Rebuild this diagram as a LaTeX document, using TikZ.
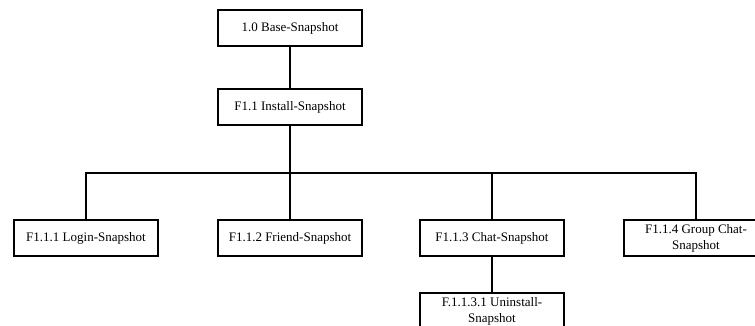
\documentclass[tikz,border=0pt]{standalone}
\usepackage{fontspec}
\setmainfont{Liberation Serif}
\begin{document}
\begin{tikzpicture}[x=1pt,y=-1pt,
  box/.style={draw=black, line width=2pt, fill=white, minimum width=144pt, minimum height=36pt,
    inner sep=0pt, align=center, font=\fontsize{13}{16}\selectfont},
  conn/.style={draw=black, line width=2pt}]
\useasboundingbox (0,0) rectangle (755,326);
\clip (0,0) rectangle (755,326);
\fill[white] (0,0) rectangle (755,326);
\node[box] (base) at (290,28) {1.0 Base-Snapshot};
\node[box] (install) at (290,107) {F1.1 Install-Snapshot};
\node[box] (login) at (86,238) {F1.1.1 Login-Snapshot};
\node[box] (friend) at (290,238) {F1.1.2 Friend-Snapshot};
\node[box] (chat) at (492,238) {F1.1.3 Chat-Snapshot};
\node[box] (group) at (696,238) {F1.1.4 Group Chat-\\Snapshot};
\node[box] (uninst) at (492,311) {F.1.1.3.1 Uninstall-\\Snapshot};
\coordinate (bus) at (290,173);
\draw[conn] (base) -- (install);
\draw[conn] (install) -- (bus);
\draw[conn] (login.north) |- (bus) -| (group.north);
\draw[conn] (friend.north) -- (bus);
\draw[conn] (chat.north) -- (chat.north |- bus);
\draw[conn] (chat) -- (uninst);
\end{tikzpicture}
\end{document}
